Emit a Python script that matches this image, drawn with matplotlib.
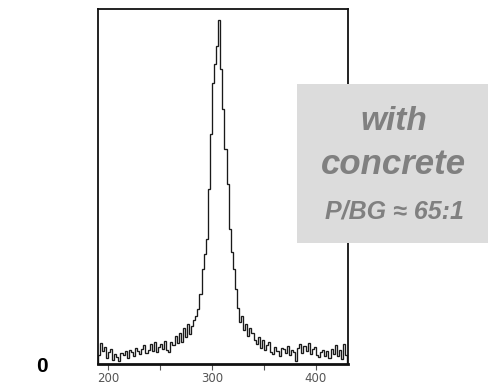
import numpy as np
import matplotlib
matplotlib.use("Agg")
import matplotlib.pyplot as plt
from matplotlib.patches import Rectangle

# channel bins (start 190, width 2)
bin_start = 190
bin_width = 2
counts = [
    9, 21, 13, 17, 6, 12, 15, 4, 10, 7,
    3, 11, 9, 13, 6, 14, 12, 8, 16, 13,
    10, 15, 19, 11, 14, 20, 13, 22, 12, 17,
    20, 15, 23, 14, 12, 22, 19, 28, 21, 31,
    22, 36, 27, 40, 30, 38, 44, 48, 55, 70,
    95, 110, 125, 175, 230, 281, 300, 318, 344, 295,
    255, 215, 180, 135, 112, 95, 75, 56, 42, 48,
    34, 40, 28, 36, 31, 24, 20, 27, 16, 24,
    14, 19, 22, 12, 10, 17, 13, 8, 16, 15,
    11, 18, 9, 14, 12, 3, 16, 20, 11, 18,
    13, 21, 10, 15, 17, 9, 7, 12, 14, 8,
    13, 6, 15, 10, 19, 8, 14, 5, 20, 9,
]
major_ticks = [200, 300, 400]
minor_ticks = [250, 350]
box_lines = ["with", "concrete", "P/BG \u2248 65:1"]
corner_label = "0"

edges = bin_start + bin_width * np.arange(len(counts) + 1)

W, H = 489, 389
fig = plt.figure(figsize=(W / 100, H / 100), dpi=100)
ax = fig.add_axes([98 / W, (H - 364) / H, 250 / W, 355 / H])

ax.stairs(counts, edges, color="#1a1a1a", lw=0.95)
ax.set_xlim(190.4, 430.8)
ax.set_ylim(0, 355)

for s in ["left", "right", "top"]:
    ax.spines[s].set_linewidth(1.3)
    ax.spines[s].set_color("#111111")
ax.spines["bottom"].set_linewidth(2.0)
ax.spines["bottom"].set_color("#111111")

ax.set_yticks([])
ax.set_xticks(major_ticks)
ax.set_xticks(minor_ticks, minor=True)
ax.tick_params(axis="x", which="both", direction="out", length=4, width=0.8,
               color="#555555", labelsize=8.5, labelcolor="#555555", pad=2)

fig.text(42 / W, 1 - 366 / H, corner_label, fontsize=15, fontweight="bold",
         family="Liberation Sans", ha="center", va="center", color="black")

# gray annotation box
fig.patches.append(Rectangle((297 / W, 1 - 243 / H), (W - 297) / W, (243 - 84) / H,
                             transform=fig.transFigure, facecolor="#dcdcdc",
                             edgecolor="none", zorder=5))
cx = 394 / W
fig.text(cx, 1 - 121 / H, box_lines[0], fontsize=24, fontweight="bold", style="italic",
         family="Liberation Sans", color="#808080", ha="center", va="center", zorder=6)
fig.text(cx, 1 - 165 / H, box_lines[1], fontsize=25, fontweight="bold", style="italic",
         family="Liberation Sans", color="#808080", ha="center", va="center", zorder=6)
fig.text(cx, 1 - 212 / H, box_lines[2], fontsize=18, fontweight="bold", style="italic",
         family=["Liberation Sans", "DejaVu Sans"], color="#808080", ha="center",
         va="center", zorder=6)

fig.savefig("out.png", dpi=100)
